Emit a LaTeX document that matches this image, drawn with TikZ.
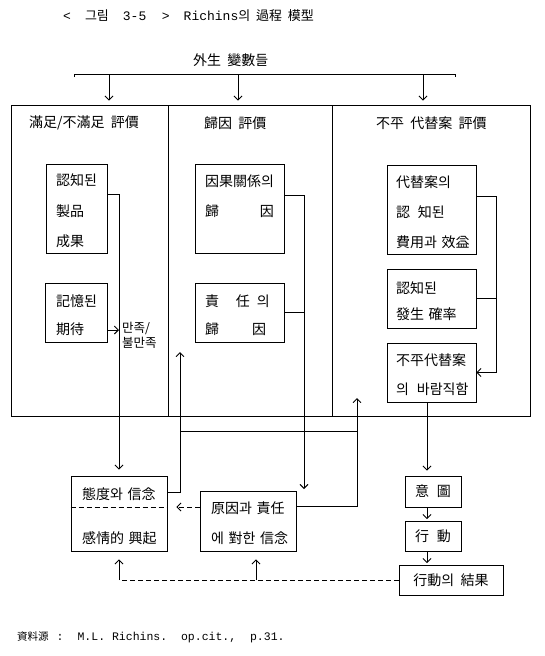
\documentclass[tikz,border=0pt]{standalone}
\usepackage{fontspec}
\setmainfont{Noto Sans CJK KR}[WordSpace=2]
\newfontfamily\mono{Liberation Mono}
\usetikzlibrary{arrows.meta}
\tikzset{
  ln/.style={line width=.9pt},
  arr/.style={ln, -{Straight Barb[length=4pt,width=8pt]}},
  darr/.style={arr, dash pattern=on 5pt off 3pt},
  dsh/.style={ln, dash pattern=on 5pt off 3pt},
  panel/.style={draw, ln, minimum height=311pt, inner sep=0pt},
  bx/.style={draw, ln, inner ysep=0pt, inner xsep=10pt, align=left, execute at begin node={\rule{0pt}{17pt}}},
  cbx/.style={draw, ln, inner sep=0pt, font=\fontsize{14}{16}\selectfont},
  ttl/.style={anchor=west, inner sep=0pt, font=\fontsize{14}{16}\selectfont},
}
\begin{document}
\begin{tikzpicture}[x=1pt, y=-1pt]
\useasboundingbox (0,0) rectangle (544,656);

% title and source
\node[anchor=west, inner sep=0pt, font=\fontsize{13}{15}\selectfont] (title) at (63,16)
  {{\mono <}\hspace{14pt}그림\hspace{14pt}{\mono 3-5}\hspace{15.6pt}{\mono >}\hspace{14pt}{\mono Richins}의 過程 模型};
\node[anchor=west, inner sep=0pt, font=\fontsize{10.5}{12}\selectfont] (src) at (17,637)
  {資料源\hspace{8pt}{\mono\fontsize{11.5}{12}\selectfont :\hspace{14pt}M.L. Richins.\ \ op.cit.,\ \ p.31.}};

% exogenous variables
\node[ttl] (ext) at (193,60) {外生 變數들};
\coordinate (bkL1) at (74,77);
\coordinate (bkL) at (74,74);
\coordinate (bkR) at (455,74);
\coordinate (bkR1) at (455,77);
\coordinate (a1) at (109,74);
\coordinate (a2) at (238,74);
\coordinate (a3) at (423,74);

% panels
\node[panel, minimum width=157pt] (lp) at (89.5,260.5) {};
\node[panel, minimum width=164pt] (mp) at (250,260.5) {};
\node[panel, minimum width=198pt] (rp) at (431,260.5) {};
\node[ttl] (lpt) at (29,123) {滿足/不滿足 評價};
\node[ttl] (mpt) at (204,123) {歸因 評價};
\node[ttl] (rpt) at (376,123) {不平 代替案 評價};

\draw[ln] (bkL1) -- (bkL) -- (bkR) -- (bkR1);
\draw[arr, shorten >=4pt] (a1) -- (a1 |- lp.north);
\draw[arr, shorten >=4pt] (a2) -- (a2 |- mp.north);
\draw[arr, shorten >=4pt] (a3) -- (a3 |- rp.north);

% left panel boxes
\node[bx, text width=41pt, minimum height=89pt, font=\fontsize{14}{30.5}\selectfont] (perc) at (76.5,208.5)
  {認知된\\製品\\成果};
\node[bx, inner xsep=11pt, text width=40pt, minimum height=59pt, font=\fontsize{14}{28}\selectfont] (mem) at (76,312.5)
  {記憶된\\期待};
\node[anchor=west, inner sep=0pt, align=left, font=\fontsize{12.5}{15}\selectfont] (sat) at (122,335.5)
  {만족/\\불만족};

% middle panel boxes
\node[bx, text width=69pt, minimum height=89pt, font=\fontsize{14}{30}\selectfont] (caus) at (239.5,208.5)
  {因果關係의\\\mbox{歸\hspace{41pt}因}\\\phantom{因}};
\node[bx, text width=69pt, minimum height=59pt, font=\fontsize{14}{28}\selectfont] (resp) at (239.5,312.5)
  {\mbox{責\hspace{17pt}任\hspace{7pt}의}\\\mbox{歸\hspace{33pt}因}};

% right panel boxes
\node[bx, inner xsep=9pt, text width=71pt, minimum height=89pt, font=\fontsize{14}{30}\selectfont] (alt) at (431.5,209.5)
  {代替案의\\\mbox{認\hspace{8pt}知된}\\費用과~效益};
\node[bx, inner xsep=9pt, text width=71pt, minimum height=59pt, font=\fontsize{14}{26}\selectfont] (prob) at (431.5,298.5)
  {認知된\\發生~確率};
\node[bx, inner xsep=9pt, text width=71pt, minimum height=59pt, font=\fontsize{14}{29}\selectfont] (des) at (431.5,372.5)
  {不平代替案\\\mbox{의\hspace{8pt}바람직함}};

% lower boxes
\node[bx, inner xsep=11pt, text width=74pt, minimum height=75pt, font=\fontsize{14}{44}\selectfont] (att) at (119,513.5)
  {態度와~信念\\感情的~興起};
\node[bx, inner xsep=11pt, text width=74pt, minimum height=60pt, font=\fontsize{14}{30}\selectfont] (cause) at (248,521)
  {原因과~責任\\에~對한~信念};
\node[cbx, minimum width=56pt, minimum height=31pt] (intent) at (433,491.5) {意\hspace{8pt}圖};
\node[cbx, minimum width=56pt, minimum height=30pt] (act) at (433,536) {行\hspace{8pt}動};
\node[cbx, minimum width=104pt, minimum height=30pt] (result) at (451,580) {行動의 結果};

\draw[dsh] ([yshift=6.5pt]att.west) -- ([yshift=6.5pt]att.east);

% left panel connectors
\coordinate (percout) at ([yshift=14pt]perc.east);
\coordinate (memout) at ([yshift=-17.5pt]mem.east);
\draw[arr, shorten >=6pt] (percout) -| (att.north);
\draw[arr] (memout) -- (memout -| att.north);

% middle panel connectors
\coordinate (causout) at ([yshift=13.5pt]caus.east);
\coordinate (midend) at (304,489);
\draw[arr] (causout) -| (midend);
\draw[ln] (resp.east) -- (resp.east -| midend);

% right panel connectors
\coordinate (altout) at ([yshift=13.5pt]alt.east);
\coordinate (rx) at (496,0);
\draw[arr] (altout) -| (des.east -| rx) -- (des.east);
\draw[ln] (prob.east) -- (prob.east -| rx);
\coordinate (dx) at (427,0);
\draw[arr, shorten >=5pt] (des.south -| dx) -- (intent.north -| dx);
\draw[arr, shorten >=1.5pt] (intent.south -| dx) -- (act.north -| dx);
\draw[arr, shorten >=1.5pt] (act.south -| dx) -- (result.north -| dx);

% feedback to panels
\coordinate (attout) at ([yshift=21.5pt]att.east);
\coordinate (up1) at (180,352);
\draw[arr] (attout) -| (up1);
\coordinate (hA) at (180,431);
\coordinate (hB) at (357,431);
\draw[ln] (hA) -- (hB);
\coordinate (causeout) at ([yshift=15pt]cause.east);
\coordinate (up2) at (357,398);
\draw[arr] (causeout) -| (up2);

% dashed links
\coordinate (causein) at ([yshift=14pt]cause.west);
\draw[darr, shorten >=9pt] (causein) -- (causein -| att.east);
\coordinate (bA) at (result.west -| att.south);
\coordinate (bx2) at (256,0);
\draw[dsh] (result.west) -- (bA);
\draw[arr, shorten >=8pt] (bA) -- (att.south);
\draw[arr, shorten >=8pt] (result.west -| bx2) -- (cause.south -| bx2);
\end{tikzpicture}
\end{document}
